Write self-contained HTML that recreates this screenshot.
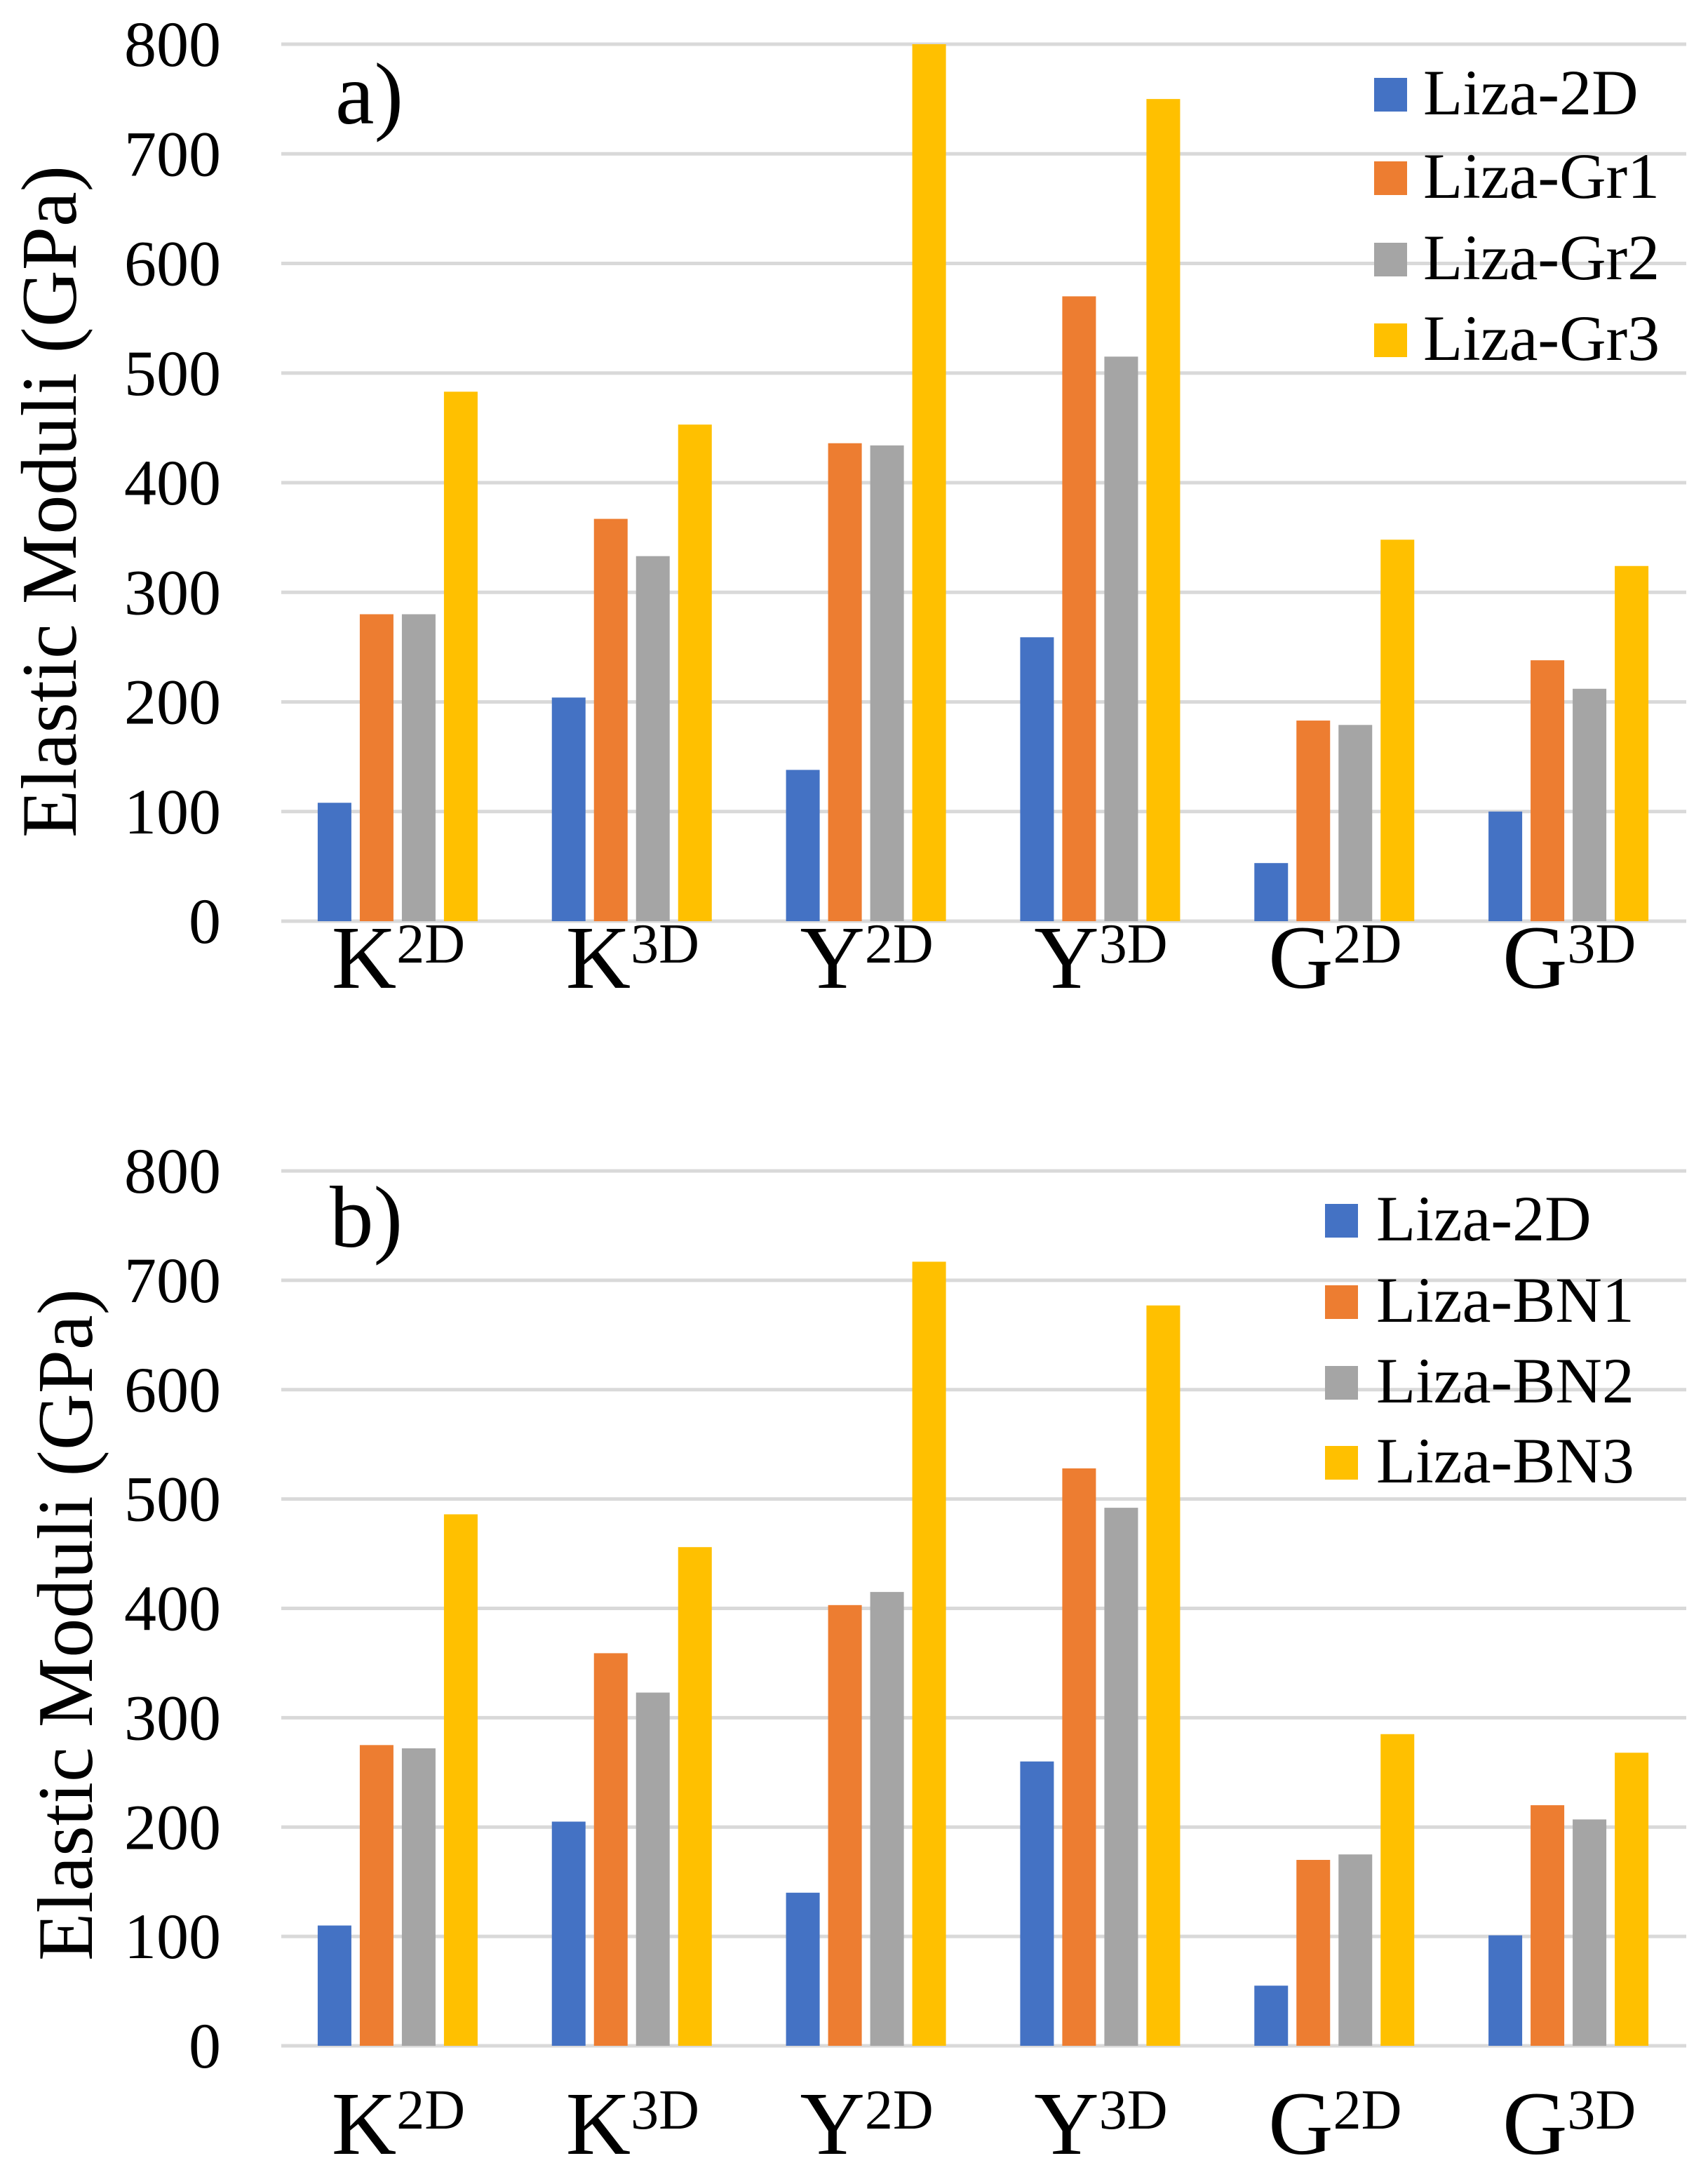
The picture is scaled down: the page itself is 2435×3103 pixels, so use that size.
<!DOCTYPE html>
<html><head><meta charset="utf-8"><style>
html,body{margin:0;padding:0;background:#fff;}
svg{display:block;font-family:"Liberation Serif",serif;}
</style></head><body>
<svg id="chart" xmlns="http://www.w3.org/2000/svg" width="2435" height="3103" viewBox="0 0 2435 3103"></svg>
<script>
const categories = ["K", "K", "Y", "Y", "G", "G"];
const categorySups = ["2D", "3D", "2D", "3D", "2D", "3D"];
const ticks = [0, 100, 200, 300, 400, 500, 600, 700, 800];
const seriesA = ["Liza-2D", "Liza-Gr1", "Liza-Gr2", "Liza-Gr3"];
const seriesB = ["Liza-2D", "Liza-BN1", "Liza-BN2", "Liza-BN3"];
const a2D  = [108, 204, 138, 259, 53, 100];
const aGr1 = [280, 367, 436, 570, 183, 238];
const aGr2 = [280, 333, 434, 515, 179, 212];
const aGr3 = [483, 453, 800, 750, 348, 324];
const b2D  = [110, 205, 140, 260, 55, 101];
const bBN1 = [275, 359, 403, 528, 170, 220];
const bBN2 = [272, 323, 415, 492, 175, 207];
const bBN3 = [486, 456, 717, 677, 285, 268];
const colors = ["#4472C4", "#ED7D31", "#A5A5A5", "#FFC000"];

const NS = "http://www.w3.org/2000/svg";
const svg = document.getElementById("chart");
function mk(tag, attrs, parent) {
  const e = document.createElementNS(NS, tag);
  for (const k in attrs) e.setAttribute(k, attrs[k]);
  (parent || svg).appendChild(e);
  return e;
}

function panel(cfg) {
  const g = mk("g", {});
  
  
  const left = 401, right = 2404;
  const gw = (right - left) / categories.length;
  const yScale = v => cfg.y0 - (v / 800) * (cfg.y0 - cfg.y800);
  const xCenter = i => left + (i + 0.5) * gw;

  ticks.forEach(t => {
    const y = yScale(t);
    const ln = mk("line", {x1: left, x2: right, y1: y, y2: y, stroke: "#D9D9D9", "stroke-width": 5}, g);
    
    
    const tx = mk("text", {x: 315, y: y + 31, "text-anchor": "end", "font-size": 92, fill: "#000"}, g);
    tx.textContent = t;
    
    
  });

  cfg.values.forEach((arr, j) => {
    arr.forEach((v, i) => {
      const cx = xCenter(i) + (j - 1.5) * 60 - 1;
      const r = mk("rect", {x: cx - 24, y: yScale(v), width: 48, height: yScale(0) - yScale(v), fill: colors[j]}, g);
      
      
    });
  });

  categories.forEach((c, i) => {
    const t = mk("text", {x: xCenter(i), y: cfg.labelY, "text-anchor": "middle", "font-size": 128, fill: "#000"}, g);
    
    
    const s1 = mk("tspan", {}, t); s1.textContent = c;
    const s2 = mk("tspan", {dy: -36, "font-size": 80}, t); s2.textContent = categorySups[i];
  });

  const title = mk("text", {x: 0, y: 0, transform: "translate(" + (cfg.titleX) + "," + cfg.titleY + ") rotate(-90)", "text-anchor": "middle", "font-size": 112, fill: "#000"}, g);
  title.textContent = "Elastic Moduli (GPa)";
  
  

  const pl = mk("text", {x: cfg.tagX, y: cfg.tagY, "font-size": 125, fill: "#000"}, g);
  pl.textContent = cfg.tag;
  
  

  const lg = mk("g", {}, g);
  
  
  cfg.series.forEach((s, j) => {
    const by = cfg.legBase[j];
    const sw = mk("rect", {x: cfg.legSwX, y: by - 52, width: 47, height: 48, fill: colors[j]}, lg);
    
    
    const lt = mk("text", {x: cfg.legTxX, y: by, "font-size": 92, fill: "#000"}, lg);
    lt.textContent = s;
    
    
  });
}

panel({name: "chart-a", series: seriesA, values: [a2D, aGr1, aGr2, aGr3], y0: 1313, y800: 63,
  labelY: 1408, titleX: 108, titleY: 715, tag: "a)", tagX: 478, tagY: 176,
  legSwX: 1959, legTxX: 2029, legBase: [163, 282, 398, 513]});
panel({name: "chart-b", series: seriesB, values: [b2D, bBN1, bBN2, bBN3], y0: 2916, y800: 1669,
  labelY: 3070, titleX: 131, titleY: 2316, tag: "b)", tagX: 470, tagY: 1777,
  legSwX: 1889, legTxX: 1962, legBase: [1768, 1884, 1999, 2113]});
</script>
</body></html>
